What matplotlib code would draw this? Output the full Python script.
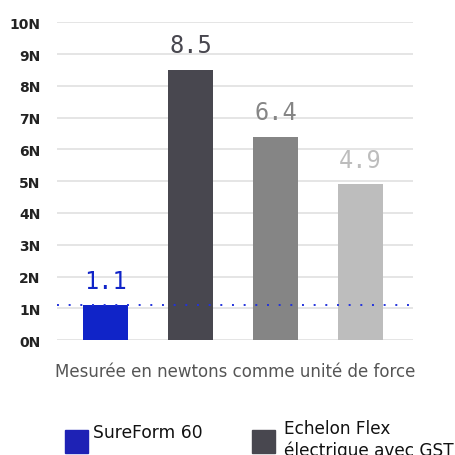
import matplotlib
matplotlib.use("Agg")
from matplotlib import pyplot as plt
from matplotlib.patches import Rectangle

products = ["SureForm 60", "Echelon Flex\nélectrique avec GST", "Produit 3", "Produit 4"]
force = [1.1, 8.5, 6.4, 4.9]
value_labels = ["1.1", "8.5", "6.4", "4.9"]
bar_colors = ["#1024c8", "#48474f", "#858585", "#bdbdbd"]
yticks = list(range(0, 11))
ytick_labels = ["%dN" % v for v in yticks]
reference_line = 1.1

fig = plt.figure(figsize=(4.56, 4.56), dpi=100)
ax = fig.add_axes([0.125, 0.252, 0.781, 0.697])

xs = range(len(force))
ax.bar(xs, force, width=0.53, color=bar_colors, zorder=3)
for x, v, lab, c in zip(xs, force, value_labels, bar_colors):
    ax.annotate(lab, (x, v), xytext=(0, 9), textcoords="offset points",
                ha="center", va="bottom", color=c, fontsize=17,
                family="DejaVu Sans Mono")

ax.axhline(reference_line, color="#2233dd", linestyle=(0, (1, 5)), linewidth=1.4, zorder=4)

ax.set_xlim(-0.57, 3.62)
ax.set_ylim(0, 10)
ax.set_yticks(yticks)
ax.set_yticklabels(ytick_labels, fontsize=10, fontweight="bold",
                   family="DejaVu Sans", color="#222222")
ax.set_xticks([])
ax.grid(axis="y", color="#e3e3e3", linewidth=1.3, zorder=0)
ax.tick_params(axis="y", length=0, pad=12)
for s in ax.spines.values():
    s.set_visible(False)

ax.set_xlabel("Mesurée en newtons comme unité de force", fontsize=12,
              color="#555555", labelpad=16)

# legend drawn by hand, it is cut by the bottom edge like in the original
fig.patches.append(Rectangle((65 / 456, 1 - 454 / 456), 23 / 456, 23 / 456,
                             transform=fig.transFigure, color="#1e22b5"))
fig.text(93 / 456, 1 - 433 / 456, products[0], fontsize=12.3, va="center",
         color="#111111", fontweight="medium")
fig.patches.append(Rectangle((252 / 456, 1 - 454 / 456), 23 / 456, 23 / 456,
                             transform=fig.transFigure, color="#48474f"))
fig.text(284 / 456, 1 - 440 / 456, products[1], fontsize=12.2, va="center",
         color="#111111", fontweight="medium", linespacing=1.25)

fig.savefig("out.png", dpi=100)
